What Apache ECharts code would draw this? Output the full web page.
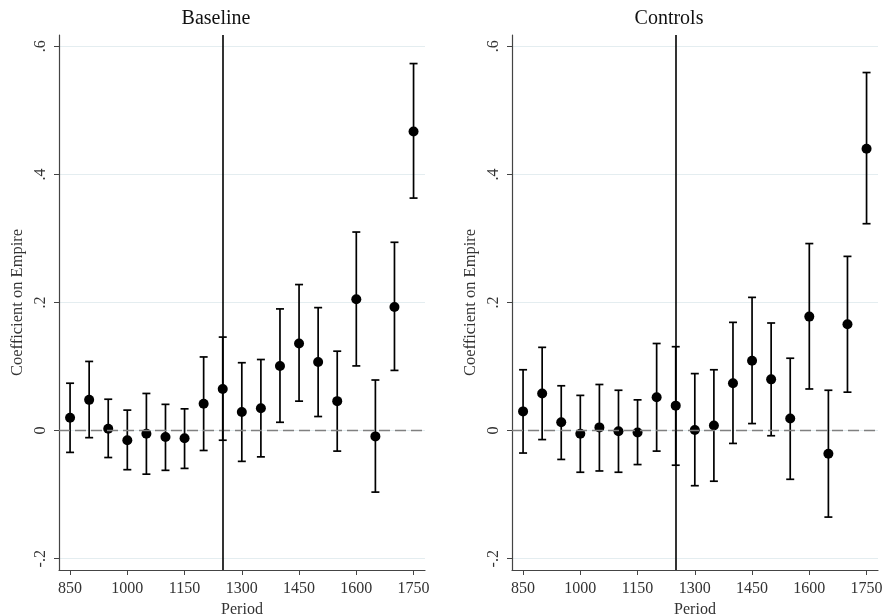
<!DOCTYPE html>
<html>
<head>
<meta charset="utf-8">
<script src="https://cdn.jsdelivr.net/npm/echarts@6/dist/echarts.min.js"></script>
<style>
  html, body { margin: 0; padding: 0; background: #fff; }
  #chart { width: 884px; height: 616px; }
</style>
</head>
<body>
<div id="chart"></div>
<script>
// periods (x positions of the estimates)
const periods = [850, 900, 950, 1000, 1050, 1100, 1150, 1200, 1250, 1300, 1350, 1400, 1450, 1500, 1550, 1600, 1650, 1700, 1750]

// Baseline: point estimate, lower and upper bound
const baseCoef = [0.020, 0.048, 0.003, -0.015, -0.005, -0.010, -0.012, 0.042, 0.065, 0.029, 0.035, 0.101, 0.136, 0.107, 0.046, 0.205, -0.009, 0.193, 0.467]
const baseLow = [-0.034, -0.011, -0.042, -0.061, -0.068, -0.062, -0.059, -0.031, -0.015, -0.048, -0.041, 0.013, 0.046, 0.022, -0.032, 0.101, -0.096, 0.094, 0.363]
const baseHigh = [0.074, 0.108, 0.049, 0.032, 0.058, 0.041, 0.034, 0.115, 0.146, 0.106, 0.111, 0.190, 0.228, 0.192, 0.124, 0.310, 0.079, 0.294, 0.573]

// Controls
const ctrlCoef = [0.030, 0.058, 0.013, -0.005, 0.005, -0.001, -0.003, 0.052, 0.039, 0.001, 0.008, 0.074, 0.109, 0.080, 0.019, 0.178, -0.036, 0.166, 0.440]
const ctrlLow = [-0.035, -0.014, -0.045, -0.065, -0.063, -0.065, -0.053, -0.032, -0.054, -0.086, -0.079, -0.020, 0.011, -0.008, -0.076, 0.065, -0.135, 0.060, 0.323]
const ctrlHigh = [0.095, 0.130, 0.070, 0.055, 0.072, 0.063, 0.048, 0.136, 0.131, 0.089, 0.095, 0.169, 0.208, 0.168, 0.113, 0.292, 0.063, 0.272, 0.559]

// tick labels
const xTicks = [850, 1000, 1150, 1300, 1450, 1600, 1750]
const yTicks = [-0.2, 0, 0.2, 0.4, 0.6]
const yTickText = { '-0.2': '-.2', '0': '0', '0.2': '.2', '0.4': '.4', '0.6': '.6' }

const cutoff = 1250
const panels = ['Baseline', 'Controls']

const FONT = 'Liberation Serif'

const chart = echarts.init(document.getElementById('chart'), null, { renderer: 'canvas' })

const grids = [
  { left: 59, width: 366, top: 35, height: 535, outerBoundsMode: 'none', containLabel: false },
  { left: 512, width: 366, top: 35, height: 535, outerBoundsMode: 'none', containLabel: false }
]

const makeX = (i) => ({
  type: 'value',
  gridIndex: i,
  min: 821,
  max: 1780,
  name: 'Period',
  nameLocation: 'middle',
  nameGap: 30,
  nameTextStyle: { fontFamily: FONT, fontSize: 16, color: '#333' },
  axisLine: { onZero: false, lineStyle: { color: '#444', width: 1.2 } },
  axisTick: { show: true, length: 5, customValues: xTicks, lineStyle: { color: '#444' } },
  axisLabel: {
    customValues: xTicks,
    margin: 11,
    fontFamily: FONT,
    fontSize: 16,
    color: '#333',
    formatter: v => String(v)
  },
  splitLine: { show: false }
})

const makeY = (i) => ({
  type: 'value',
  gridIndex: i,
  min: -0.2176,
  max: 0.6176,
  name: 'Coefficient on Empire',
  nameLocation: 'middle',
  nameGap: 33,
  nameTextStyle: { fontFamily: FONT, fontSize: 16.5, color: '#333' },
  axisLine: { show: true, lineStyle: { color: '#444', width: 1.2 } },
  axisTick: { show: true, length: 5, customValues: yTicks, lineStyle: { color: '#444' } },
  axisLabel: {
    customValues: yTicks,
    rotate: 90,
    margin: 10,
    fontFamily: FONT,
    fontSize: 16,
    color: '#333',
    formatter: v => yTickText[String(Math.round(v * 10) / 10)] ?? String(v)
  },
  splitLine: { show: true, lineStyle: { color: '#e4edf0', width: 1.2 } }
})

// error bar with caps
const renderBar = (params, api) => {
  const x = api.value(0)
  const top = api.coord([x, api.value(2)])
  const bot = api.coord([x, api.value(1)])
  const w = 4
  const style = { stroke: '#000', lineWidth: 1.7 }
  return {
    type: 'group',
    children: [
      { type: 'line', shape: { x1: top[0], y1: top[1], x2: bot[0], y2: bot[1] }, style },
      { type: 'line', shape: { x1: top[0] - w, y1: top[1], x2: top[0] + w, y2: top[1] }, style },
      { type: 'line', shape: { x1: bot[0] - w, y1: bot[1], x2: bot[0] + w, y2: bot[1] }, style }
    ]
  }
}

const sets = [
  { coef: baseCoef, low: baseLow, high: baseHigh },
  { coef: ctrlCoef, low: ctrlLow, high: ctrlHigh }
]

const series = []
sets.forEach((s, i) => {
  series.push({
    type: 'custom',
    xAxisIndex: i,
    yAxisIndex: i,
    renderItem: renderBar,
    encode: { x: 0, y: [1, 2] },
    data: periods.map((p, k) => [p, s.low[k], s.high[k]]),
    silent: true,
    z: 3
  })
  series.push({
    type: 'scatter',
    xAxisIndex: i,
    yAxisIndex: i,
    symbol: 'circle',
    symbolSize: 10,
    itemStyle: { color: '#000', opacity: 1 },
    data: periods.map((p, k) => [p, s.coef[k]]),
    z: 4,
    markLine: {
      silent: true,
      symbol: 'none',
      label: { show: false },
      animation: false,
      data: [
        { yAxis: 0, lineStyle: { color: '#808080', type: [11, 5], width: 1.3 } },
        { xAxis: cutoff, lineStyle: { color: '#000', type: 'solid', width: 1.6 } }
      ]
    }
  })
})

chart.setOption({
  animation: false,
  backgroundColor: '#fff',
  title: panels.map((t, i) => ({
    text: t,
    left: i === 0 ? 216 : 669,
    top: 9,
    padding: 0,
    textAlign: 'center',
    textStyle: { fontFamily: FONT, fontSize: 20, fontWeight: 'normal', color: '#111' }
  })),
  grid: grids,
  xAxis: [makeX(0), makeX(1)],
  yAxis: [makeY(0), makeY(1)],
  series
})
</script>
</body>
</html>
